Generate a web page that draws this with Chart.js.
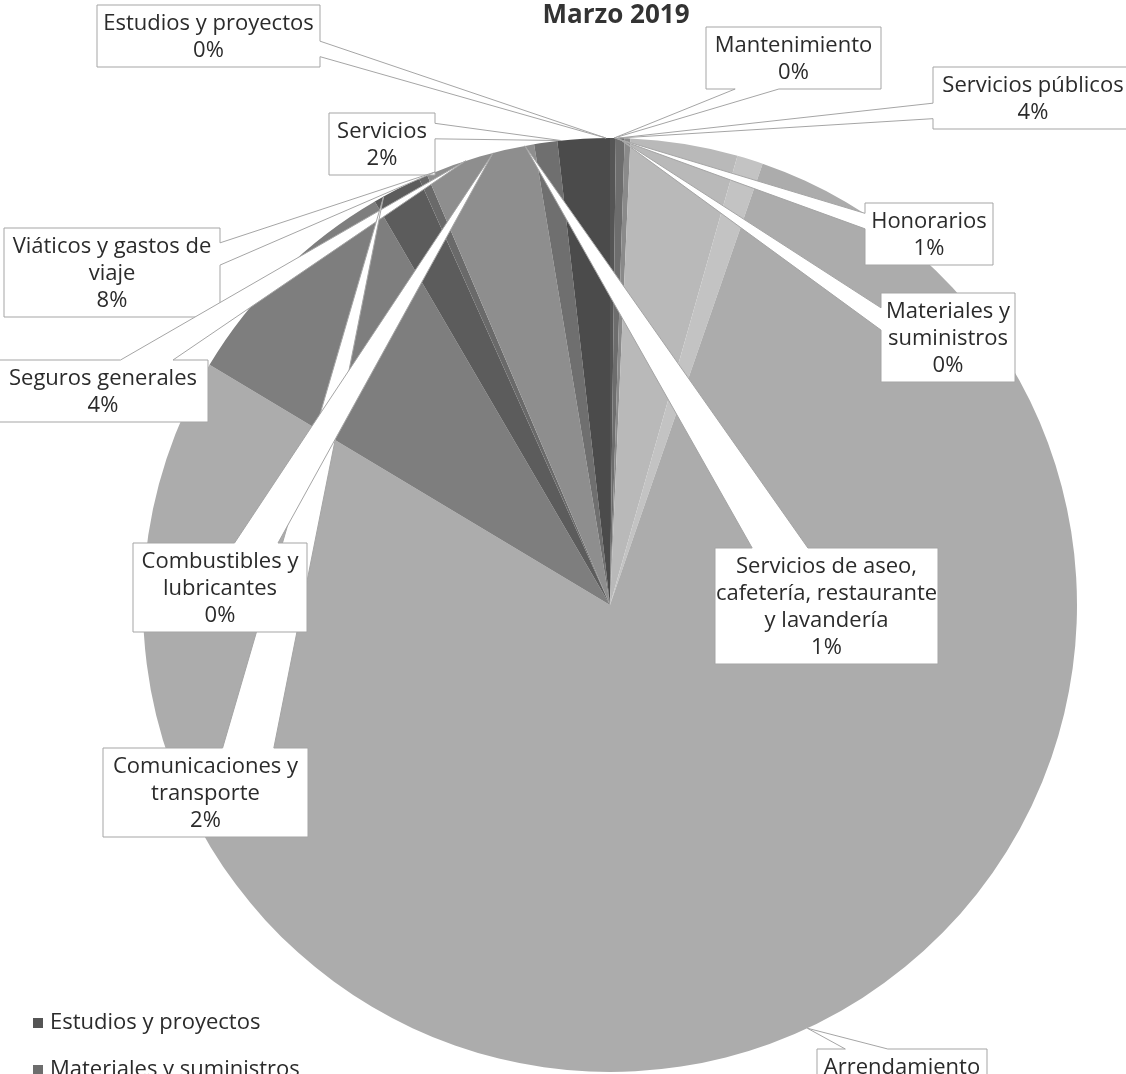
<!DOCTYPE html>
<html>
<head>
<meta charset="utf-8">
<script src="https://cdn.jsdelivr.net/npm/chart.js@4.4.1/dist/chart.umd.min.js"></script>
<style>
  html, body { margin: 0; padding: 0; background: #fff; }
  canvas { display: block; }
</style>
</head>
<body>
<canvas id="pie" width="1126" height="1074"></canvas>
<script>
// chart values
const title = 'Marzo 2019'
const categories = [
  'Estudios y proyectos',
  'Materiales y suministros',
  'Mantenimiento',
  'Servicios públicos',
  'Honorarios',
  'Arrendamiento',
  'Viáticos y gastos de viaje',
  'Comunicaciones y transporte',
  'Combustibles y lubricantes',
  'Seguros generales',
  'Servicios de aseo, cafetería, restaurante y lavandería',
  'Servicios'
]
const shares = [0.2, 0.3, 0.2, 3.7, 0.9, 78.3, 8.0, 1.7, 0.3, 3.8, 0.8, 1.8]
const sliceColors = [
  '#555555', '#6d6d6d', '#8a8a8a', '#b9b9b9', '#c3c3c3', '#acacac',
  '#7e7e7e', '#5c5c5c', '#6a6a6a', '#8e8e8e', '#6f6f6f', '#4b4b4b'
]

// callout boxes: index into categories, left, top, width, tip angle (deg clockwise from 12 o'clock)
const callouts = [
  { i: 0, left: 97, top: 5, width: 223, tip: -0.5 },
  { i: 2, left: 706, top: 27, width: 175, tip: 0.5 },
  { i: 3, left: 933, top: 67, width: 200, tip: 1 },
  { i: 11, left: 329, top: 113, width: 106, tip: -6 },
  { i: 4, left: 865, top: 203, width: 128, tip: 0.6 },
  { i: 6, left: 4, top: 228, width: 216, tip: -22 },
  { i: 1, left: 881, top: 293, width: 134, tip: 1 },
  { i: 9, left: -2, top: 360, width: 210, tip: -18 },
  { i: 7, left: 103, top: 748, width: 205, tip: -29 },
  { i: 8, left: 133, top: 543, width: 174, tip: -14.5 },
  { i: 10, left: 715, top: 548, width: 223, tip: -10.5, wrap: 228 },
  { i: 5, left: 817, top: 1049, width: 170, tip: 155 }
]

const FONT = '"Open Sans", "Noto Sans", sans-serif'
const LINE_H = 27

function wrap(ctx, text, maxW) {
  const words = text.split(' ')
  let lines = []
  let cur = ''
  for (const w of words) {
    const t = cur ? cur + ' ' + w : w
    if (cur && ctx.measureText(t).width > maxW) {
      lines.push(cur)
      cur = w
    } else {
      cur = t
    }
  }
  lines.push(cur)
  return lines
}

// same outline as the office "wedgeRectCallout" shape
function calloutPath(ctx, l, t, w, h, tx, ty) {
  const r = l + w, b = t + h
  const hc = l + w / 2, vc = t + h / 2
  const dx = tx - hc, dy = ty - vc
  const dz = Math.abs(dy) - Math.abs(dx * h / w)
  const x1 = l + w * (dx > 0 ? 7 : 2) / 12, x2 = l + w * (dx > 0 ? 10 : 5) / 12
  const y1 = t + h * (dy > 0 ? 7 : 2) / 12, y2 = t + h * (dy > 0 ? 10 : 5) / 12
  const edge = dz > 0 ? (dy > 0 ? 'b' : 't') : (dx > 0 ? 'r' : 'l')

  ctx.beginPath()
  ctx.moveTo(l, t)
  if (edge === 't') { ctx.lineTo(x1, t); ctx.lineTo(tx, ty); ctx.lineTo(x2, t) }
  ctx.lineTo(r, t)
  if (edge === 'r') { ctx.lineTo(r, y1); ctx.lineTo(tx, ty); ctx.lineTo(r, y2) }
  ctx.lineTo(r, b)
  if (edge === 'b') { ctx.lineTo(x2, b); ctx.lineTo(tx, ty); ctx.lineTo(x1, b) }
  ctx.lineTo(l, b)
  if (edge === 'l') { ctx.lineTo(l, y2); ctx.lineTo(tx, ty); ctx.lineTo(l, y1) }
  ctx.closePath()
}

const decorations = {
  id: 'decorations',
  afterDraw(chart) {
    const ctx = chart.ctx
    const arc = chart.getDatasetMeta(0).data[0]
    const px = arc.x, py = arc.y, rad = arc.outerRadius
    const total = shares.reduce((a, b) => a + b, 0)

    ctx.save()
    // title
    ctx.fillStyle = '#333'
    ctx.font = 'bold 26px ' + FONT
    ctx.textAlign = 'center'
    ctx.textBaseline = 'middle'
    ctx.fillText(title, 616, 16)

    // callouts
    ctx.font = '22px ' + FONT
    callouts.forEach(c => {
      const pct = Math.round(shares[c.i] / total * 100) + '%'
      const lines = wrap(ctx, categories[c.i], c.wrap || c.width - 6)
      lines.push(pct)
      const h = lines.length * LINE_H + 8
      const a = c.tip * Math.PI / 180
      const tx = px + rad * Math.sin(a), ty = py - rad * Math.cos(a)
      calloutPath(ctx, c.left, c.top, c.width, h, tx, ty)
      ctx.fillStyle = '#fff'
      ctx.fill()
      ctx.strokeStyle = '#a5a5a5'
      ctx.lineWidth = 1
      ctx.stroke()
      ctx.fillStyle = '#2b2b2b'
      lines.forEach((s, k) => {
        ctx.fillText(s, c.left + c.width / 2, c.top + 5 + LINE_H / 2 + k * LINE_H)
      })
    })

    // legend, runs off the bottom of the page like the scan
    ctx.textAlign = 'left'
    categories.forEach((name, k) => {
      const y = 1023 + k * 47
      ctx.fillStyle = sliceColors[k]
      ctx.fillRect(33, y - 5, 10, 10)
      ctx.fillStyle = '#2b2b2b'
      ctx.fillText(name, 50, y)
    })
    ctx.restore()
  }
}

new Chart(document.getElementById('pie'), {
  type: 'pie',
  data: {
    labels: categories,
    datasets: [{
      data: shares,
      backgroundColor: sliceColors,
      borderWidth: 0
    }]
  },
  options: {
    responsive: false,
    animation: false,
    devicePixelRatio: 1,
    layout: { padding: { left: 143, right: 49, top: 138, bottom: 2 } },
    plugins: {
      legend: { display: false },
      tooltip: { enabled: false },
      title: { display: false }
    }
  },
  plugins: [decorations]
})
</script>
</body>
</html>
